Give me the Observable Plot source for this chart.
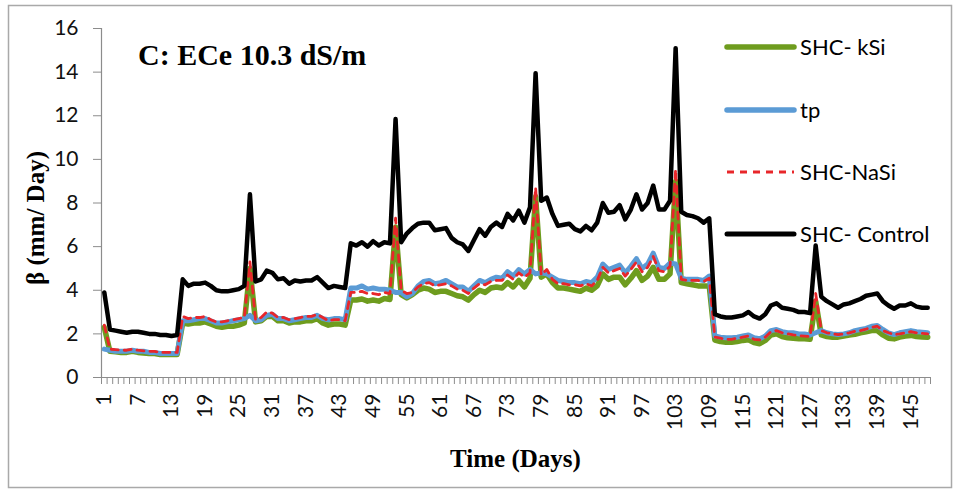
<!DOCTYPE html>
<html>
<head>
<meta charset="utf-8">
<script src="https://cdn.jsdelivr.net/npm/d3@7"></script>
<script src="https://cdn.jsdelivr.net/npm/@observablehq/plot@0.6"></script>
<style>
  html, body { margin: 0; padding: 0; background: #fff; }
  #chart svg { display: block; }
</style>
</head>
<body>
<div id="chart"></div>
<script>
// ---- Data ----
const days = d3.range(1, 149);

const shcKSi = [
  2.3, 1.2, 1.18, 1.15, 1.15, 1.2, 1.15, 1.12, 1.1, 1.1, 1.05, 1.05, 1.05, 1.05,
  2.5, 2.45, 2.5, 2.5, 2.55, 2.45, 2.35, 2.3, 2.35, 2.35, 2.4, 2.5, 5.0,
  2.55, 2.6, 2.8, 2.8, 2.6, 2.6, 2.5, 2.55, 2.55, 2.6, 2.6, 2.7, 2.5, 2.4, 2.45, 2.45, 2.4,
  3.55, 3.55, 3.6, 3.5, 3.55, 3.5, 3.62, 3.58, 6.9,
  3.8, 3.65, 3.8, 4.0, 4.1, 4.05, 3.9, 3.95, 3.95, 3.85, 3.75, 3.7, 3.55, 3.8, 4.0, 3.9,
  4.1, 4.15, 4.1, 4.35, 4.15, 4.45, 4.15, 4.55, 8.3,
  4.6, 4.75, 4.35, 4.1, 4.1, 4.05, 4.0, 3.95, 4.1, 4.0, 4.2, 4.75, 4.5, 4.6, 4.6, 4.25,
  4.55, 4.9, 4.45, 4.65, 5.05, 4.5, 4.5, 4.75, 9.0,
  4.35, 4.3, 4.25, 4.2, 4.2, 4.2,
  1.72, 1.65, 1.62, 1.62, 1.65, 1.7, 1.73, 1.6, 1.55, 1.7, 1.95, 2.0, 1.88, 1.82, 1.8,
  1.78, 1.78, 1.75, 3.5,
  1.95, 1.88, 1.85, 1.85, 1.9, 1.95, 1.98, 2.05, 2.1, 2.15, 2.15, 1.95, 1.8, 1.77, 1.85,
  1.9, 1.93, 1.88, 1.86, 1.85
];

const tp = [
  1.3, 1.25, 1.2, 1.2, 1.2, 1.25, 1.2, 1.2, 1.15, 1.15, 1.1, 1.1, 1.1, 1.1,
  2.6, 2.6, 2.65, 2.7, 2.7, 2.6, 2.5, 2.5, 2.55, 2.6, 2.65, 2.7, 2.85,
  2.6, 2.65, 2.85, 2.9, 2.7, 2.7, 2.6, 2.65, 2.7, 2.75, 2.75, 2.85, 2.7, 2.65, 2.7, 2.7, 2.65,
  4.1, 4.1, 4.2, 4.05, 4.1, 4.05, 4.05, 4.0, 3.9,
  3.9, 3.7, 3.85, 4.2, 4.4, 4.45, 4.3, 4.35, 4.45, 4.3, 4.15, 4.15, 3.95, 4.2, 4.45, 4.35,
  4.5, 4.6, 4.55, 4.85, 4.65, 4.95, 4.75, 4.95, 4.75,
  4.8, 4.75, 4.6, 4.45, 4.4, 4.35, 4.35, 4.3, 4.4, 4.35, 4.6, 5.2, 4.95, 5.05, 5.15, 4.8,
  5.1, 5.45, 5.0, 5.2, 5.7, 5.05, 5.0, 5.25, 5.2,
  4.55, 4.5, 4.5, 4.5, 4.45, 4.65,
  1.9, 1.85, 1.82, 1.82, 1.85, 1.9, 1.95, 1.82, 1.78, 1.9, 2.15, 2.2, 2.1, 2.05, 2.05,
  2.0, 2.0, 1.95, 2.05,
  2.15, 2.05, 2.0, 1.97, 2.0, 2.05, 2.15, 2.2, 2.25, 2.35, 2.38, 2.2, 2.05, 1.97, 2.05,
  2.1, 2.15, 2.1, 2.08, 2.05
];

const shcNaSi = [
  2.4, 1.3, 1.28, 1.25, 1.25, 1.3, 1.25, 1.22, 1.2, 1.2, 1.15, 1.15, 1.15, 1.15,
  2.8, 2.7, 2.75, 2.75, 2.8, 2.65, 2.55, 2.55, 2.6, 2.65, 2.7, 2.75, 5.3,
  2.65, 2.75, 3.0, 2.95, 2.75, 2.75, 2.65, 2.7, 2.75, 2.8, 2.8, 2.9, 2.75, 2.6, 2.65, 2.65, 2.6,
  3.9, 3.9, 3.95, 3.85, 3.85, 3.8, 3.9, 3.85, 7.3,
  4.0, 3.85, 3.9, 4.15, 4.3, 4.35, 4.2, 4.25, 4.3, 4.2, 4.05, 4.0, 3.85, 4.1, 4.3, 4.25,
  4.4, 4.45, 4.45, 4.7, 4.5, 4.8, 4.6, 4.8, 8.7,
  4.7, 4.95, 4.5, 4.3, 4.3, 4.25, 4.25, 4.2, 4.3, 4.2, 4.45, 5.05, 4.8, 4.9, 5.0, 4.65,
  4.95, 5.3, 4.85, 5.05, 5.55, 4.9, 4.85, 5.1, 9.55,
  4.5, 4.45, 4.45, 4.45, 4.4, 4.55,
  1.85, 1.8, 1.75, 1.75, 1.8, 1.85, 1.9, 1.75, 1.72, 1.85, 2.1, 2.15, 2.05, 2.0, 1.95,
  1.92, 1.9, 1.88, 3.85,
  2.15, 2.05, 2.0, 1.97, 2.0, 2.05, 2.12, 2.15, 2.22, 2.3, 2.35, 2.15, 2.05, 1.97, 2.0,
  2.05, 2.1, 2.05, 2.02, 2.0
];

const shcControl = [
  3.9, 2.2, 2.15, 2.1, 2.05, 2.1, 2.1, 2.05, 2.0, 2.0, 1.95, 1.95, 1.9, 1.95,
  4.5, 4.2, 4.3, 4.3, 4.35, 4.2, 4.0, 3.95, 3.95, 4.0, 4.05, 4.2, 8.4,
  4.4, 4.5, 4.9, 4.8, 4.5, 4.55, 4.3, 4.45, 4.4, 4.45, 4.45, 4.6, 4.35, 4.1, 4.2, 4.15, 4.1,
  6.15, 6.05, 6.2, 6.0, 6.25, 6.05, 6.2, 6.15, 11.85,
  6.2, 6.6, 6.85, 7.05, 7.1, 7.1, 6.75, 6.8, 6.85, 6.4, 6.2, 6.1, 5.8, 6.3, 6.8, 6.5,
  6.9, 7.1, 6.9, 7.5, 7.2, 7.65, 7.1, 7.8, 13.95,
  8.1, 8.25, 7.5, 6.95, 7.0, 7.05, 6.8, 6.7, 6.95, 6.75, 7.1, 8.0, 7.55, 7.6, 7.9, 7.25,
  7.7, 8.4, 7.7, 8.0, 8.8, 7.7, 7.7, 8.1, 15.1,
  7.6, 7.45, 7.4, 7.3, 7.1, 7.3,
  2.9, 2.8, 2.75, 2.75, 2.8, 2.85, 3.0, 2.8, 2.7, 2.9, 3.3, 3.4, 3.2, 3.15, 3.1,
  3.0, 3.0, 2.95, 6.05,
  3.7, 3.5, 3.35, 3.2, 3.35, 3.4, 3.5, 3.6, 3.75, 3.8, 3.85, 3.5, 3.3, 3.15, 3.3,
  3.3, 3.4, 3.25, 3.2, 3.2
];

const seriesNames = ["SHC- kSi", "tp", "SHC-NaSi", "SHC- Control"];
const seriesColors = ["#6e9c1e", "#5b9bd5", "#e8262a", "#000000"];
const yTicks = [0, 2, 4, 6, 8, 10, 12, 14, 16];
const xTickLabels = d3.range(1, 149, 6); // 1, 7, 13, ..., 145
const xTickMarks = d3.range(0.5, 149, 1);

const titleText = "C: ECe 10.3 dS/m";
const xTitle = "Time (Days)";
const yTitle = "β (mm/ Day)";

// ---- tidy table ----
const allSeries = [shcKSi, tp, shcNaSi, shcControl];
const tables = allSeries.map((vals, s) =>
  days.map((d, i) => ({day: d, value: vals[i], series: seriesNames[s]}))
);

const serif = "'Liberation Serif', 'Times New Roman', serif";
const sans = "Lato, 'Open Sans', sans-serif";
const axisGray = "#8c8c8c";

// Decoration: outer border, title, axis titles, legend
function decor(index, scales, values, dims) {
  const g = d3.create("svg:g").attr("text-anchor", "start");
  g.append("rect")
    .attr("x", 8.5).attr("y", 5.5)
    .attr("width", dims.width - 17).attr("height", dims.height - 11)
    .attr("fill", "none").attr("stroke", "#a9a9a9").attr("stroke-width", 1.5);
  g.append("text")
    .attr("x", 138).attr("y", 65).attr("text-anchor", "start")
    .attr("font-family", serif).attr("font-weight", "bold").attr("font-size", 30)
    .text(titleText);
  const cx = dims.marginLeft + (dims.width - dims.marginLeft - dims.marginRight) / 2;
  g.append("text")
    .attr("x", cx).attr("y", 467).attr("text-anchor", "middle")
    .attr("font-family", serif).attr("font-weight", "bold").attr("font-size", 25)
    .text(xTitle);
  g.append("text")
    .attr("transform", "translate(44,218) rotate(-90)").attr("text-anchor", "middle")
    .attr("font-family", serif).attr("font-weight", "bold").attr("font-size", 25)
    .text(yTitle);
  const legY = [47, 110, 172, 234];
  const widths = [5.5, 5.5, 3, 5];
  seriesNames.forEach((name, i) => {
    const line = g.append("line")
      .attr("x1", 727).attr("x2", 794).attr("y1", legY[i]).attr("y2", legY[i])
      .attr("stroke", seriesColors[i]).attr("stroke-width", widths[i])
      .attr("stroke-linecap", i === 2 ? "butt" : "round");
    if (i === 2) line.attr("stroke-dasharray", "7,6");
    g.append("text")
      .attr("x", 800).attr("y", legY[i]).attr("dy", "0.36em").attr("text-anchor", "start")
      .attr("font-family", sans).attr("font-size", 22)
      .text(name);
  });
  return g.node();
}

const chart = Plot.plot({
  width: 960,
  height: 493,
  marginLeft: 101,
  marginRight: 30,
  marginTop: 28,
  marginBottom: 116,
  style: {background: "#fff", overflow: "visible"},
  x: {domain: [0.5, 148.5]},
  y: {domain: [0, 16]},
  marks: [
    Plot.axisY({
      ticks: yTicks, tickSize: 8, tickPadding: 15, stroke: axisGray,
      fontSize: 21, fontFamily: sans, fill: "#111", label: null
    }),
    Plot.axisX({
      ticks: xTickMarks, tickSize: 7, tickFormat: () => "", stroke: axisGray, label: null
    }),
    Plot.axisX({
      ticks: xTickLabels, tickSize: 0, tickPadding: 16, tickRotate: -90,
      fontSize: 21, fontFamily: sans, fill: "#111", label: null
    }),
    Plot.ruleX([0.5], {stroke: axisGray, strokeWidth: 1.2}),
    Plot.ruleY([0], {stroke: axisGray, strokeWidth: 1.2}),
    Plot.line(tables[0], {x: "day", y: "value", stroke: seriesColors[0], strokeWidth: 5.5, strokeLinejoin: "round", strokeLinecap: "round"}),
    Plot.line(tables[1], {x: "day", y: "value", stroke: seriesColors[1], strokeWidth: 5, strokeLinejoin: "round", strokeLinecap: "round"}),
    Plot.line(tables[2], {x: "day", y: "value", stroke: seriesColors[2], strokeWidth: 2.8, strokeDasharray: "7,6", strokeLinejoin: "round"}),
    Plot.line(tables[3], {x: "day", y: "value", stroke: seriesColors[3], strokeWidth: 4.5, strokeLinejoin: "round", strokeLinecap: "round"}),
    decor
  ]
});

document.getElementById("chart").appendChild(chart);
</script>
</body>
</html>
